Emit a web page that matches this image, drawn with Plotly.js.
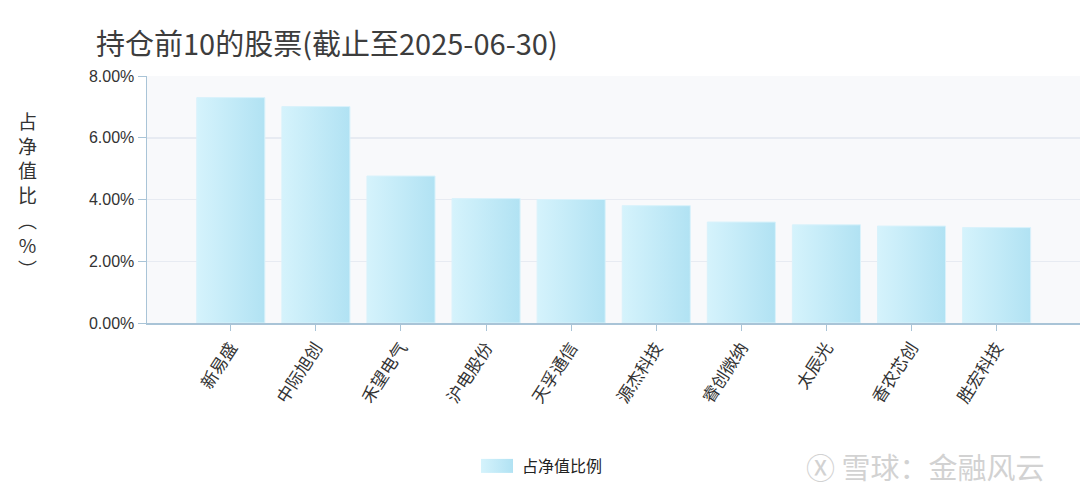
<!DOCTYPE html>
<html>
<head>
<meta charset="utf-8">
<script src="https://cdn.plot.ly/plotly-3.0.1.min.js"></script>
<style>
html,body{margin:0;padding:0;background:#fff;}
#chart{width:1080px;height:501px;}
</style>
</head>
<body>
<div id="chart"></div>
<script>
const categories = ["新易盛","中际旭创","禾望电气","沪电股份","天孚通信","源杰科技","睿创微纳","太辰光","香农芯创","胜宏科技"];
const values = [7.30, 7.01, 4.76, 4.03, 4.00, 3.80, 3.27, 3.18, 3.14, 3.09];
const seriesName = "占净值比例";
const yTicks = [0, 2, 4, 6, 8];
const yTickText = yTicks.map(function(v){ return v.toFixed(2) + "%"; });
const titleText = "持仓前10的股票(截止至2025-06-30)";
const yTitleChars = ["占","净","值","比","︵","%","︶"];
const watermark = "雪球：金融风云";

const axisColor = "#a9c4d7";
const cjk = "'Noto Sans CJK SC', 'Noto Sans', sans-serif";

const trace = {
  type: "bar",
  x: categories,
  y: values,
  name: seriesName,
  width: 0.8,
  marker: {color: "#c4ebf7", line: {color: "#d9f2fb", width: 1}},
  hoverinfo: "x+y",
  showlegend: true
};

const layout = {
  width: 1080, height: 501,
  margin: {l: 147, r: 0, t: 76, b: 178},
  paper_bgcolor: "#ffffff",
  plot_bgcolor: "#f8f9fb",
  title: {
    text: titleText,
    x: 96/1080, xanchor: "left", xref: "container",
    y: 1 - 45/501, yanchor: "middle", yref: "container",
    font: {family: cjk, size: 29, color: "#3d3d3d"}
  },
  xaxis: {
    type: "category",
    range: [-0.985, 9.98],
    showline: true, linecolor: axisColor, linewidth: 2,
    ticks: "outside", ticklen: 6, tickcolor: axisColor, tickwidth: 1,
    tickangle: -57,
    tickfont: {family: cjk, size: 17, color: "#333"},
    showgrid: false, zeroline: false, fixedrange: true
  },
  yaxis: {
    range: [0, 8],
    tickmode: "array",
    tickvals: yTicks,
    ticktext: yTickText,
    showline: true, linecolor: axisColor, linewidth: 1.5,
    ticks: "outside", ticklen: 8, tickcolor: axisColor, tickwidth: 1,
    tickfont: {family: "'Liberation Sans', Arial, sans-serif", size: 16, color: "#333"},
    showgrid: true, gridcolor: "#e7ebf2", gridwidth: 1.5,
    zeroline: false, fixedrange: true
  },
  legend: {
    orientation: "h", x: 0.5, xref: "container", xanchor: "center",
    y: 1 - 466/501, yref: "container", yanchor: "middle",
    font: {family: cjk, size: 16, color: "#222"},
    itemwidth: 40
  },
  annotations: [
    {
      text: yTitleChars.join("<br>"),
      xref: "paper", yref: "paper",
      x: -0.128, y: 0.52, xanchor: "center", yanchor: "middle",
      showarrow: false, align: "center",
      font: {family: cjk, size: 19, color: "#333"}
    },
    {
      text: "Ⓧ " + watermark,
      xref: "paper", yref: "paper",
      x: 0.965, xanchor: "right",
      y: -143/247, yanchor: "middle",
      showarrow: false,
      font: {family: cjk, size: 29, color: "#d2d2d2"}
    }
  ],
  bargap: 0.2
};

Plotly.newPlot("chart", [trace], layout, {displayModeBar: false, staticPlot: true}).then(function(gd){
  const svg = gd.querySelector("svg.main-svg");
  const ns = "http://www.w3.org/2000/svg";
  let defs = svg.querySelector("defs");
  if (!defs) { defs = document.createElementNS(ns, "defs"); svg.insertBefore(defs, svg.firstChild); }
  const g = document.createElementNS(ns, "linearGradient");
  g.setAttribute("id", "barGrad");
  g.setAttribute("x1", "0"); g.setAttribute("y1", "0");
  g.setAttribute("x2", "1"); g.setAttribute("y2", "0");
  [["0%","#d5f3fc"],["100%","#b1e2f3"]].forEach(function(s){
    const st = document.createElementNS(ns, "stop");
    st.setAttribute("offset", s[0]); st.setAttribute("stop-color", s[1]);
    g.appendChild(st);
  });
  defs.appendChild(g);
  gd.querySelectorAll(".bars .point path").forEach(function(p){ p.style.fill = "url(#barGrad)"; });
  gd.querySelectorAll(".legend .legendpoints path").forEach(function(p){
    p.setAttribute("d", "M16,7H-16V-7H16Z");
    p.style.fill = "url(#barGrad)";
    p.style.stroke = "none";
  });
});
</script>
</body>
</html>
